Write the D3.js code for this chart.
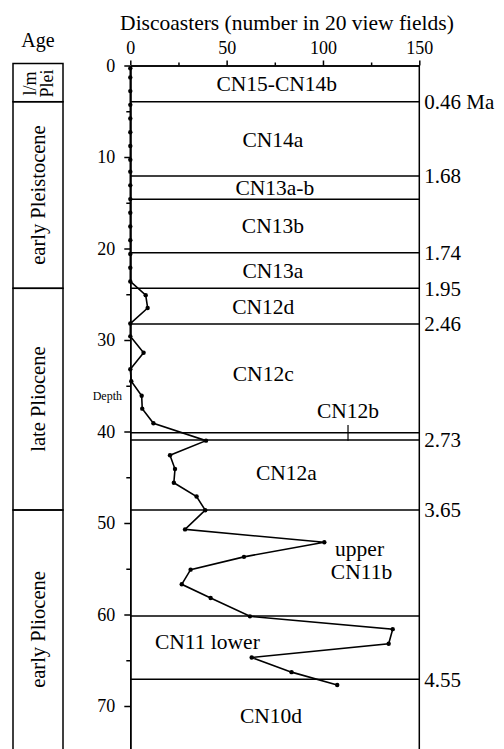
<!DOCTYPE html>
<html>
<head>
<meta charset="utf-8">
<script src="https://cdn.jsdelivr.net/npm/d3@7"></script>
<style>
  body { margin: 0; background: #fff; }
  text { font-family: "Liberation Serif", "Times New Roman", serif; fill: #000; }
</style>
</head>
<body>
<svg id="chart"></svg>
<script>
var width = 504;
var height = 749;

// discoaster counts (number in 20 view fields) vs depth
var depths = [0.3, 1.3, 2.8, 4.3, 5.8, 7.3, 8.8, 10.3, 11.6, 13.1, 14.6, 16.1, 17.6, 19.1, 20.6, 22.1, 23.6,
              25.1, 26.5, 28.2, 29.6, 31.4, 33.2, 34.5, 36.1, 37.5, 39.1, 41.0, 42.6, 44.1, 45.6, 47.1, 48.6,
              50.7, 52.1, 53.7, 55.1, 56.7, 58.2, 60.2, 61.6, 63.2, 64.7, 66.3, 67.7];
var counts = [0, 0, 0, 0, 0, 0, 0, 0, 0, 0, 0, 0, 0, 0, 0, 0, 0,
              8, 9, 0, 0, 6.9, 0, 0.5, 5.9, 6.2, 12, 39.3, 20.6, 23.2, 22.6, 34.4, 38.9,
              28.4, 100.7, 59, 31.3, 26.7, 41.7, 62.1, 136.2, 134.1, 63, 83.7, 107.4];

// zone boundaries and the ages (Ma) written next to them
var boundaryDepths = [3.96, 12.08, 14.62, 20.46, 24.35, 28.25, 40.13, 40.93, 48.58, 60.16, 67.08];
var boundaryAges = ["0.46 Ma", "1.68", "", "1.74", "1.95", "2.46", "", "2.73", "3.65", "", "4.55"];

// nannofossil zone names, placed at (count, depth)
var zoneNames = ["CN15-CN14b", "CN14a", "CN13a-b", "CN13b", "CN13a", "CN12d", "CN12c", "CN12b", "CN12a",
                 "upper", "CN11b", "CN11 lower", "CN10d"];
var zoneX = [76, 74, 75, 74, 74, 69, 69, 113, 81, 119, 120, 40, 73];
var zoneY = [2.0, 8.1, 13.35, 17.5, 22.4, 26.3, 33.7, 37.7, 44.5, 52.8, 55.3, 62.9, 71.0];

// epochs in the age column
var epochNames = [["l/m", "Plei"], ["early Pleistocene"], ["late Pliocene"], ["early Pliocene"]];
var epochTop = [0, 3.96, 24.35, 48.58];
var epochBottom = [3.96, 24.35, 48.58, 76];

var xTicks = [0, 50, 100, 150];
var xMinor = [25, 75, 125];
var yTicks = [0, 10, 20, 30, 40, 50, 60, 70];
var yMinor = [5, 15, 25, 35, 45, 55, 65];

var xScale = d3.scaleLinear()
               .domain([0, 150])
               .range([130.3, 419.3]);

var yScale = d3.scaleLinear()
               .domain([0, 75])
               .range([65.5, 65.5 + 75 * 9.15]);

var svg = d3.select('#chart')
            .attr('width', width)
            .attr('height', height);

// title
svg.append('text')
   .attr('x', 287)
   .attr('y', 30)
   .attr('text-anchor', 'middle')
   .style('font-size', '21.5px')
   .text('Discoasters (number in 20 view fields)');

svg.append('text')
   .attr('x', 38)
   .attr('y', 47)
   .attr('text-anchor', 'middle')
   .style('font-size', '20px')
   .text('Age');

// minor ticks first, then the labelled ones
svg.append('g')
   .attr('transform', `translate(0, ${yScale(0)})`)
   .call(d3.axisTop(xScale).tickValues(xMinor).tickSize(3).tickSizeOuter(0).tickFormat(''));

var xAxis = svg.append('g')
   .attr('transform', `translate(0, ${yScale(0)})`)
   .call(d3.axisTop(xScale)
           .tickValues(xTicks)
           .tickSize(5)
           .tickPadding(7)
           .tickSizeOuter(0));

svg.append('g')
   .attr('transform', `translate(${xScale(0)}, 0)`)
   .call(d3.axisLeft(yScale).tickValues(yMinor).tickSize(4).tickSizeOuter(0).tickFormat(''));

var yAxis = svg.append('g')
   .attr('transform', `translate(${xScale(0)}, 0)`)
   .call(d3.axisLeft(yScale)
           .tickValues(yTicks)
           .tickSize(6)
           .tickPadding(9)
           .tickSizeOuter(0));

svg.selectAll('.domain, .tick line')
   .attr('stroke', '#000')
   .attr('stroke-width', 1.5);

xAxis.selectAll('text').style('font-size', '18px').attr('font-family', null);
yAxis.selectAll('text').style('font-size', '18px').attr('font-family', null);

svg.append('text')
   .attr('x', 122)
   .attr('y', yScale(36.6))
   .attr('text-anchor', 'end')
   .style('font-size', '12px')
   .text('Depth');

// right frame line
svg.append('line')
   .attr('x1', xScale(150)).attr('x2', xScale(150))
   .attr('y1', yScale(0)).attr('y2', height)
   .attr('stroke', '#000')
   .attr('stroke-width', 1.5);

// zone boundaries
svg.selectAll('line.boundary')
   .data(boundaryDepths)
   .enter()
   .append('line')
     .classed('boundary', true)
     .attr('x1', xScale(0))
     .attr('x2', xScale(150))
     .attr('y1', d => yScale(d))
     .attr('y2', d => yScale(d))
     .attr('stroke', '#000')
     .attr('stroke-width', 1.5);

svg.selectAll('text.age')
   .data(boundaryDepths)
   .enter()
   .append('text')
     .classed('age', true)
     .attr('x', xScale(150) + 5)
     .attr('y', d => yScale(d))
     .attr('dy', '0.35em')
     .style('font-size', '21px')
     .text((d, i) => boundaryAges[i]);

// zone names
svg.selectAll('text.zone')
   .data(zoneNames)
   .enter()
   .append('text')
     .classed('zone', true)
     .attr('x', (d, i) => xScale(zoneX[i]))
     .attr('y', (d, i) => yScale(zoneY[i]))
     .attr('dy', '0.35em')
     .attr('text-anchor', 'middle')
     .style('font-size', '21.5px')
     .text(d => d);

// little marker under CN12b
svg.append('line')
   .attr('x1', xScale(113)).attr('x2', xScale(113))
   .attr('y1', yScale(39.3)).attr('y2', yScale(41.0))
   .attr('stroke', '#000')
   .attr('stroke-width', 1.2);

// data line and points
var points = depths.map((d, i) => ({ depth: d, count: counts[i] }));

svg.append('path')
   .datum(points)
     .attr('fill', 'none')
     .attr('stroke', '#000')
     .attr('stroke-width', 1.6)
     .attr('d', d3.line()
       .x(d => xScale(d.count))
       .y(d => yScale(d.depth)));

svg.selectAll('circle')
   .data(points)
   .enter()
   .append('circle')
     .attr('cx', d => xScale(d.count))
     .attr('cy', d => yScale(d.depth))
     .attr('r', 2.2)
     .attr('fill', '#000');

// age column
var epochs = svg.append('g');

epochs.selectAll('rect')
   .data(epochNames)
   .enter()
   .append('rect')
     .attr('x', 13)
     .attr('y', (d, i) => yScale(epochTop[i]) - (i === 0 ? 2 : 0))
     .attr('width', 50)
     .attr('height', (d, i) => yScale(epochBottom[i]) - yScale(epochTop[i]) + (i === 0 ? 2 : 0))
     .attr('fill', 'none')
     .attr('stroke', '#000')
     .attr('stroke-width', 1.5);

epochs.selectAll('g.label')
   .data(epochNames)
   .enter()
   .append('g')
     .classed('label', true)
     .attr('transform', (d, i) => `translate(38, ${(yScale(epochTop[i]) + Math.min(yScale(epochBottom[i]), height)) / 2}) rotate(-90)`)
   .each(function(d){
     var n = d.length;
     d3.select(this).selectAll('text')
       .data(d)
       .enter()
       .append('text')
         .attr('x', 0)
         .attr('y', (t, j) => (j - (n - 1) / 2) * 17)
         .attr('dy', '0.35em')
         .attr('text-anchor', 'middle')
         .style('font-size', n > 1 ? '18px' : '20.5px')
         .text(t => t);
   });
</script>
</body>
</html>
